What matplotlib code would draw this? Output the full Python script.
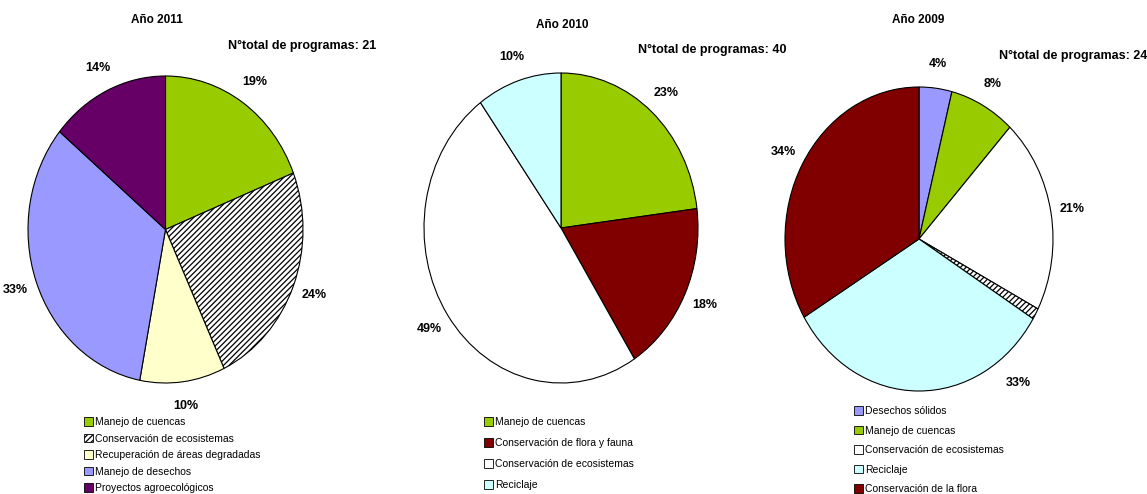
import numpy as np
import matplotlib.pyplot as plt
from matplotlib.patches import Patch

plt.rcParams['font.family'] = ['Liberation Sans', 'DejaVu Sans']
plt.rcParams['hatch.linewidth'] = 0.9

W, H = 1147, 494

# Año 2011
labels_2011 = ['Manejo de cuencas', 'Conservación de ecosistemas',
               'Recuperación de áreas degradadas', 'Manejo de desechos',
               'Proyectos agroecológicos']
values_2011 = [19, 24, 10, 33, 14]
colors_2011 = ['#99CC00', 'white', '#FFFFCC', '#9999FF', '#660066']
hatch_2011 = [None, '//////', None, None, None]

# Año 2010
labels_2010 = ['Manejo de cuencas', 'Conservación de flora y fauna',
               'Conservación de ecosistemas', 'Reciclaje']
values_2010 = [23, 18, 49, 10]
colors_2010 = ['#99CC00', '#800000', 'white', '#CCFFFF']
hatch_2010 = [None, None, None, None]

# Año 2009 (small hatched sliver has no legend entry)
labels_2009 = ['Desechos sólidos', 'Manejo de cuencas', 'Conservación de ecosistemas',
               None, 'Reciclaje', 'Conservación de la flora']
values_2009 = [4, 8, 21, 1.2, 33, 34]
colors_2009 = ['#9999FF', '#99CC00', 'white', 'white', '#CCFFFF', '#800000']
hatch_2009 = [None, None, None, '//////', None, None]

charts = [
    # data, pie box (px), title pos, total text pos, legend anchor, legend spacing
    (labels_2011, values_2011, colors_2011, hatch_2011, 'Año 2011', 21,
     (28, 76, 303, 383), (157, 20), (302, 46), (84, 417), 0.63),
    (labels_2010, values_2010, colors_2010, hatch_2010, 'Año 2010', 40,
     (424, 73, 698, 383), (562, 25), (712, 50), (484, 417), 1.05),
    (labels_2009, values_2009, colors_2009, hatch_2009, 'Año 2009', 24,
     (785, 87, 1053, 391), (918, 20), (1073, 56), (854, 406), 0.92),
]

fig = plt.figure(figsize=(W / 100, H / 100), dpi=100)

for labels, values, colors, hatches, title, total, box, tpos, npos, lpos, lsp in charts:
    x0, y0, x1, y1 = box
    ax = fig.add_axes([x0 / W, 1 - y1 / H, (x1 - x0) / W, (y1 - y0) / H])
    wedges, texts, autotexts = ax.pie(
        values, colors=colors, startangle=90, counterclock=False,
        autopct=lambda p: '%d%%' % round(p) if p >= 2 else '',
        pctdistance=1.16,
        wedgeprops=dict(edgecolor='black', linewidth=0.8),
        textprops=dict(fontsize=9, fontweight='bold'))
    for w, h in zip(wedges, hatches):
        if h:
            w.set_hatch(h)
    if title == 'Año 2009':
        # the 33% label sits to the lower right in the original
        a = np.radians(-52)
        autotexts[4].set_position((1.2 * np.cos(a), 1.2 * np.sin(a)))
    ax.set_aspect('auto')
    ax.set_xlim(-1, 1)
    ax.set_ylim(-1, 1)
    ax.axis('off')

    fig.text(tpos[0] / W, 1 - tpos[1] / H, title, ha='center', va='center',
             fontsize=8.5, fontweight='bold')
    fig.text(npos[0] / W, 1 - npos[1] / H, 'N°total de programas: %d' % total,
             ha='center', va='center', fontsize=9, fontweight='bold')

    handles = []
    names = []
    for lab, c, h in zip(labels, colors, hatches):
        if lab is None:
            continue
        handles.append(Patch(facecolor=c, edgecolor='black', hatch=h, linewidth=0.6))
        names.append(lab)
    fig.legend(handles, names, loc='upper left',
               bbox_to_anchor=(lpos[0] / W, 1 - lpos[1] / H),
               frameon=False, fontsize=7.5, handlelength=0.9, handleheight=0.9,
               handletextpad=0.2, labelspacing=lsp, borderpad=0, borderaxespad=0)

fig.savefig('out.png', dpi=100)
